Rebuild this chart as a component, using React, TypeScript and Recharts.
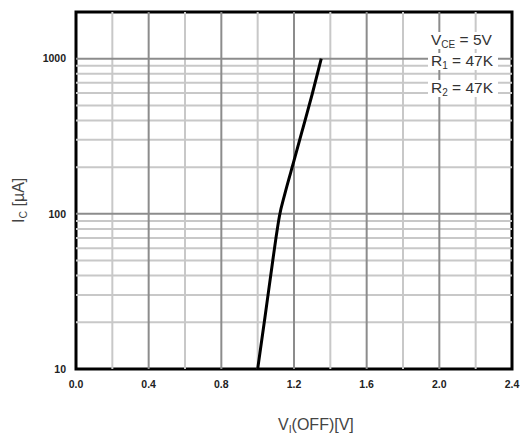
import { LineChart, Line, XAxis, YAxis, ReferenceLine, ReferenceArea } from "recharts";

// I_C vs V_I(OFF)
const vOff = [1.0, 1.04, 1.08, 1.1, 1.12, 1.15, 1.2, 1.25, 1.3, 1.35];
const icUA = [10, 21.5, 47, 69, 97, 135, 220, 360, 590, 1000];

const xTicks = [0, 0.4, 0.8, 1.2, 1.6, 2.0, 2.4];
const xMajorGrid = [0.4, 0.8, 1.2, 1.6, 2.0];
const xMinorGrid = [0.2, 0.6, 1.0, 1.4, 1.8, 2.2];
const yTicks = [10, 100, 1000];
const yMajorGrid = [100, 1000];
const yMinorGrid = [20, 30, 40, 50, 60, 70, 80, 90, 200, 300, 400, 500, 600, 700, 800, 900];

const notes = [
  { main: "V", sub: "CE", rest: " = 5V" },
  { main: "R", sub: "1", rest: " = 47K" },
  { main: "R", sub: "2", rest: " = 47K" },
];

const data = vOff.map((v, i) => ({ v, ic: icUA[i] }));

const font = "'Liberation Sans', Arial, sans-serif";
const tickStyle = { fontSize: 10.5, fontWeight: 700, fill: "#222", fontFamily: font };
const MAJOR = "#8c8c8c";
const MINOR = "#c8c8c8";

export default function App() {
  return (
    <div style={{ position: "absolute", left: 0, top: 0, width: 528, height: 441, background: "#fff" }}>
      <LineChart width={528} height={441} data={data} margin={{ top: 12, right: 16, bottom: 42, left: 16 }}>
        <XAxis
          type="number"
          dataKey="v"
          domain={[0, 2.4]}
          ticks={xTicks}
          interval={0}
          tickFormatter={(v: number) => v.toFixed(1)}
          axisLine={false}
          tickLine={false}
          tickSize={0}
          tickMargin={12}
          height={30}
          tick={tickStyle}
        />
        <YAxis
          type="number"
          scale="log"
          domain={[10, 2000]}
          allowDataOverflow
          ticks={yTicks}
          interval={0}
          axisLine={false}
          tickLine={false}
          tickSize={0}
          tickMargin={10}
          width={60}
          tick={tickStyle}
        />
        {xMinorGrid.map((x) => (
          <ReferenceLine key={`xm-${x}`} x={x} stroke={MINOR} strokeWidth={2} />
        ))}
        {yMinorGrid.map((y) => (
          <ReferenceLine key={`ym-${y}`} y={y} stroke={MINOR} strokeWidth={2} />
        ))}
        {xMajorGrid.map((x) => (
          <ReferenceLine key={`xM-${x}`} x={x} stroke={MAJOR} strokeWidth={2} />
        ))}
        {yMajorGrid.map((y) => (
          <ReferenceLine key={`yM-${y}`} y={y} stroke={MAJOR} strokeWidth={2} />
        ))}
        <ReferenceArea x1={0} x2={2.4} y1={10} y2={2000} fill="none" stroke="#000" strokeWidth={3} />
        <Line
          dataKey="ic"
          type="monotone"
          stroke="#000"
          strokeWidth={3}
          dot={false}
          isAnimationActive={false}
        />
      </LineChart>
      <svg
        width={528}
        height={441}
        style={{ position: "absolute", left: 0, top: 0, pointerEvents: "none" }}
        fontFamily={font}
      >
        {notes.map((n, i) => {
          const base = [45, 66, 93][i];
          return (
            <g key={i}>
              <rect x={428} y={base - 13} width={70} height={17} fill="#fff" />
              <text x={431} y={base} fontSize={15.5} fill="#333">
                {n.main}
                <tspan fontSize={10} dy={3}>{n.sub}</tspan>
                <tspan dy={-3}>{n.rest}</tspan>
              </text>
            </g>
          );
        })}
        <text transform="translate(24,223) rotate(-90)" fontSize={16} fill="#444">
          I<tspan fontSize={10.5} dy={3}>C</tspan>
          <tspan dy={-3}> [µA]</tspan>
        </text>
        <text x={278} y={430} fontSize={16} fill="#444">
          V<tspan fontSize={10.5} dy={3}>I</tspan>
          <tspan dy={-3}>(OFF)[V]</tspan>
        </text>
      </svg>
    </div>
  );
}
